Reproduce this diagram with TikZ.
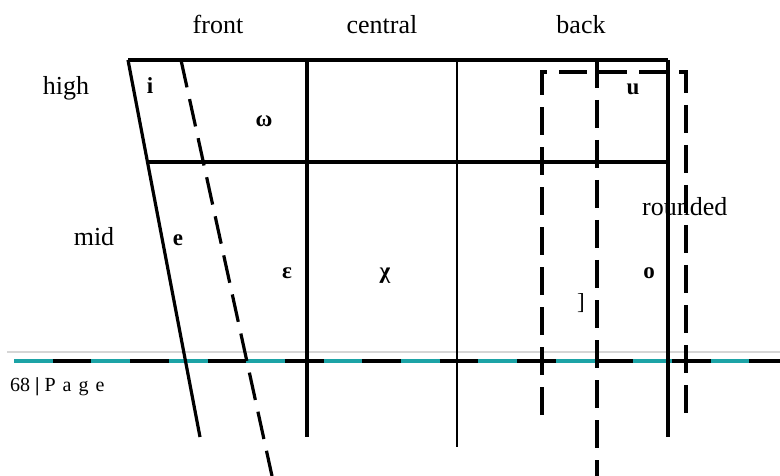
\documentclass[tikz,border=0pt]{standalone}
\usepackage{fontspec}
\setmainfont{Liberation Serif}
\definecolor{tealband}{RGB}{28,163,166}
\definecolor{ruleg}{RGB}{214,214,214}
\begin{document}
\begin{tikzpicture}[x=1pt,y=-1pt,
  solidline/.style={line width=3.2pt},
  thinline/.style={line width=1.6pt},
  dashline/.style={line width=3.2pt,dash pattern=on 28pt off 12pt},
  lab/.style={font=\fontsize{26}{26}\selectfont,anchor=base,inner sep=0pt},
  ipa/.style={font=\fontsize{23}{23}\selectfont\bfseries,anchor=base,inner sep=0pt}]
\useasboundingbox (0,0) rectangle (780,476);
% footer rules
\draw[ruleg,line width=1.5pt] (7,352) -- (780,352);
\draw[tealband,line width=4pt] (14,361) -- (780,361);
\draw[black,line width=4pt,dash pattern=on 38.7pt off 38.7pt,dash phase=38.7pt] (14,361) -- (780,361);
\node[anchor=base west,inner sep=0pt,font=\fontsize{20}{20}\selectfont] (pg) at (10,391)
  {68\hspace{5pt}\textbf{|}\hspace{5pt}P\hspace{7pt}a\hspace{7pt}g\hspace{7pt}e};
% grid
\draw[solidline] (128,60) -- (668,60);
\draw[solidline] (146,162) -- (668,162);
\draw[solidline] (128,60) -- (200,437);
\draw[solidline] (307,60) -- (307,437);
\draw[thinline] (457,60) -- (457,447);
\draw[solidline] (668,60) -- (668,437);
\draw[dashline] (181,60) -- (272,476);
\draw[dashline] (542,415) -- (542,72) -- (686,72) -- (686,415);
\draw[dashline] (597,60) -- (597,476);
% labels
\node[lab] (front) at (218,34) {front};
\node[lab] (central) at (382,34) {central};
\node[lab] (back) at (581,34) {back};
\node[lab] (high) at (66,95) {high};
\node[lab] (mid) at (94,245) {mid};
\node[lab,anchor=base west] (rnd) at (642,215) {rounded};
% vowels
\node[ipa] (vi) at (150,94) {i};
\node[ipa] (vom) at (264,127) {ω};
\node[ipa] (vu) at (633,95) {u};
\node[ipa] (ve) at (178,246) {e};
\node[ipa] (veps) at (287,279) {ε};
\node[ipa] (vchi) at (385,279) {χ};
\node[ipa] (vo) at (649,278) {o};
\node[anchor=base,inner sep=0pt,font=\fontsize{23}{23}\selectfont] (vbr) at (581,309) {]};
\end{tikzpicture}
\end{document}
